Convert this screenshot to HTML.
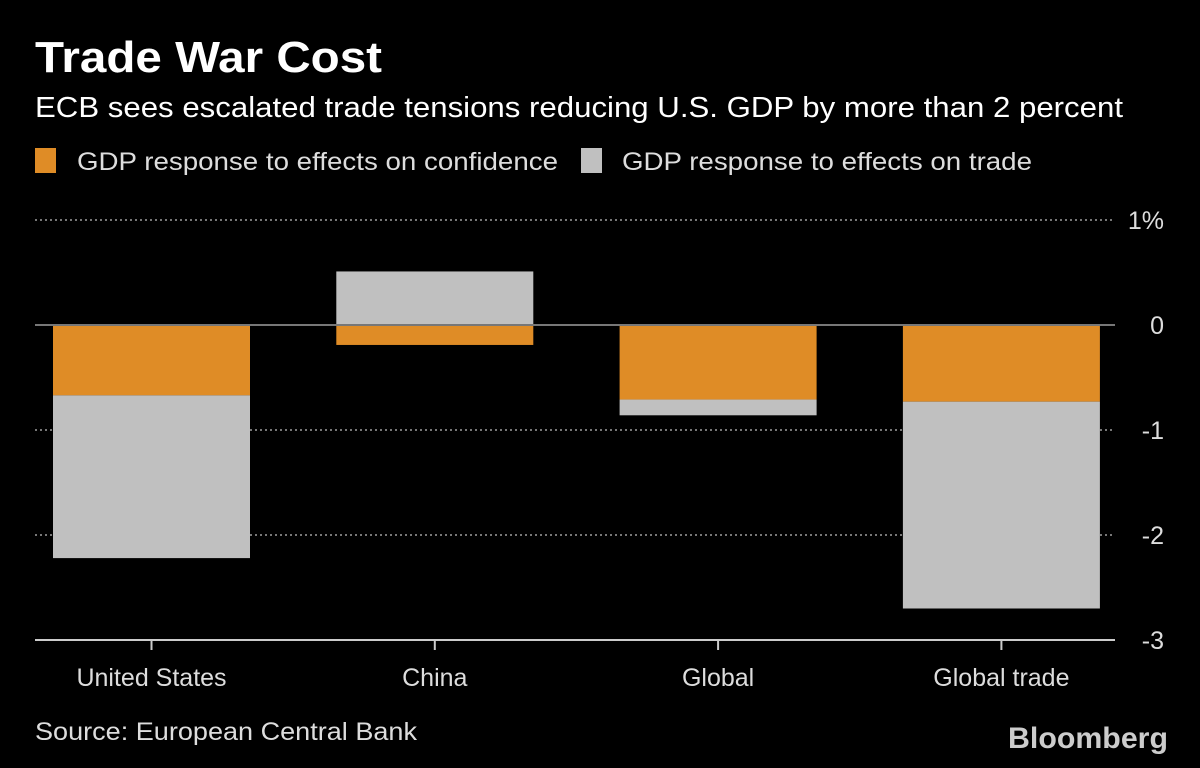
<!DOCTYPE html>
<html><head><meta charset="utf-8"><style>
html,body{margin:0;padding:0;background:#000;}
svg{display:block;font-family:"Liberation Sans",sans-serif;}
</style></head><body>
<svg id="chart" width="1200" height="768" viewBox="0 0 1200 768">
<rect width="1200" height="768" fill="#000"/>
<text x="35" y="72" fill="#fff" font-size="44" font-weight="bold" textLength="347" lengthAdjust="spacingAndGlyphs">Trade War Cost</text>
<text x="35" y="117" fill="#fff" font-size="29" textLength="1088" lengthAdjust="spacingAndGlyphs">ECB sees escalated trade tensions reducing U.S. GDP by more than 2 percent</text>
<g>
<rect x="35" y="148" width="21" height="25" fill="#df8c26"/>
<text x="77" y="170" fill="#ddd" font-size="25" textLength="481" lengthAdjust="spacingAndGlyphs">GDP response to effects on confidence</text>
<rect x="581" y="148" width="21" height="25" fill="#c0c0c0"/>
<text x="622" y="170" fill="#ddd" font-size="25" textLength="410" lengthAdjust="spacingAndGlyphs">GDP response to effects on trade</text>
</g>
<g id="grid"></g>
<g id="bars"></g>
<g id="axes"></g>
<text x="35" y="740" fill="#ddd" font-size="25" textLength="382" lengthAdjust="spacingAndGlyphs">Source: European Central Bank</text>
<text x="1168" y="748" fill="#ccc" font-size="30" font-weight="bold" text-anchor="end" textLength="160" lengthAdjust="spacingAndGlyphs">Bloomberg</text>
</svg>
<script>
const categories = ["United States", "China", "Global", "Global trade"];
const confidence = [-0.67, -0.19, -0.71, -0.73];
const trade = [-1.55, 0.51, -0.15, -1.97];
const yTicks = [1, 0, -1, -2, -3];
const yTickLabels = ["1%", "0", "-1", "-2", "-3"];

const NS = "http://www.w3.org/2000/svg";
const plotL = 35, plotR = 1115, y0px = 325, unit = 105;
const yScale = v => y0px - v * unit;
const xCenter = i => 151.5 + i * 283.3;
const barW = 197;
function mk(tag, attrs, parent) {
  const e = document.createElementNS(NS, tag);
  for (const k in attrs) e.setAttribute(k, attrs[k]);
  parent.appendChild(e);
  return e;
}
const grid = document.getElementById('grid'), bars = document.getElementById('bars'), axes = document.getElementById('axes');
yTicks.forEach((t, i) => {
  const y = yScale(t);
  if (t !== 0 && t !== -3) {
    const l = mk('line', {x1: plotL, x2: plotR, y1: y, y2: y, stroke: '#777', 'stroke-width': 2, 'stroke-dasharray': '2,3'}, grid);
    
    
  }
  const tx = mk('text', {x: 1164, y: y + 9, fill: '#ddd', 'font-size': 25, 'text-anchor': 'end'}, axes);
  tx.textContent = yTickLabels[i];
  
  
});
categories.forEach((c, i) => {
  const cx = xCenter(i), x = cx - barW / 2;
  const c0 = confidence[i], tr = trade[i];
  const cr = mk('rect', {x: x, width: barW, y: Math.min(yScale(0), yScale(c0)), height: Math.abs(c0) * unit, fill: '#df8c26'}, bars);
  
  
  let a, b;
  if (tr < 0) { a = c0 < 0 ? c0 : 0; b = a + tr; } else { a = c0 > 0 ? c0 : 0; b = a + tr; }
  const trr = mk('rect', {x: x, width: barW, y: Math.min(yScale(a), yScale(b)), height: Math.abs(tr) * unit, fill: '#c0c0c0'}, bars);
  
  
  const tk = mk('line', {x1: cx, x2: cx, y1: yScale(-3), y2: yScale(-3) + 10, stroke: '#ccc', 'stroke-width': 2}, axes);
  
  
  const lb = mk('text', {x: cx, y: 686, fill: '#ddd', 'font-size': 25, 'text-anchor': 'middle'}, axes);
  lb.textContent = c;
  
  
});
const zl = mk('line', {x1: plotL, x2: plotR, y1: yScale(0), y2: yScale(0), stroke: '#777', 'stroke-width': 2}, axes);


const xa = mk('line', {x1: plotL, x2: plotR, y1: yScale(-3), y2: yScale(-3), stroke: '#ccc', 'stroke-width': 2}, axes);


</script>
</body></html>
